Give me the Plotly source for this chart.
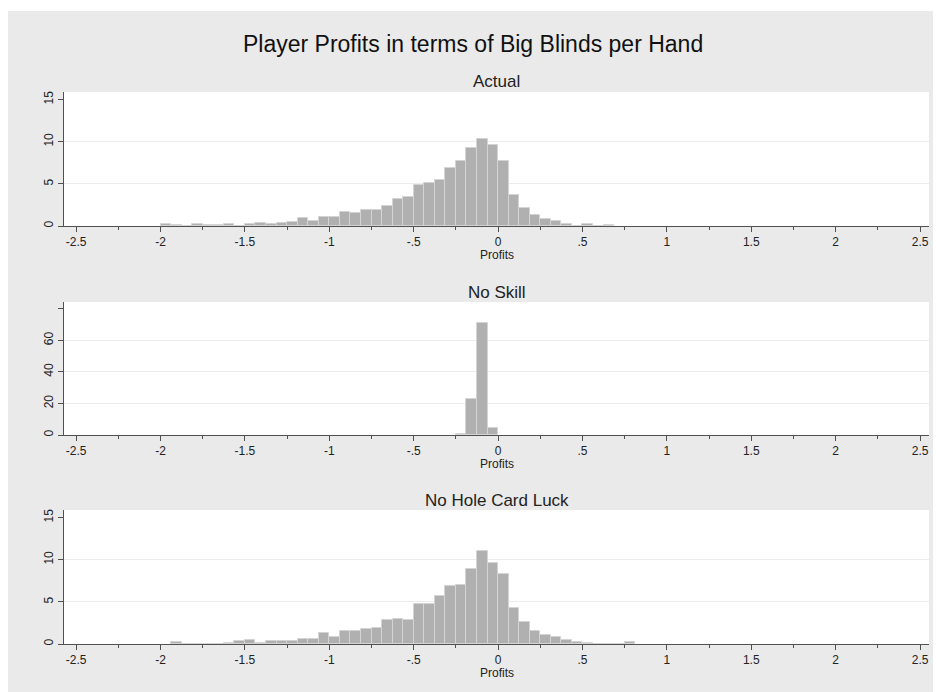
import plotly.graph_objects as go

# ---- data: histogram bins (bin lower edges, width 1/16) and heights (percent) ----
bin_width = 0.0625

actual_left = [-2.0, -1.9375, -1.875, -1.8125, -1.75, -1.6875, -1.625, -1.5625,
               -1.5, -1.4375, -1.375, -1.3125, -1.25, -1.1875, -1.125, -1.0625,
               -1.0, -0.9375, -0.875, -0.8125, -0.75, -0.6875, -0.625, -0.5625,
               -0.5, -0.4375, -0.375, -0.3125, -0.25, -0.1875, -0.125, -0.0625,
               0.0, 0.0625, 0.125, 0.1875, 0.25, 0.3125, 0.375, 0.4375,
               0.5, 0.5625, 0.625]
actual_pct = [0.24, 0.12, 0.0, 0.24, 0.12, 0.12, 0.24, 0.0,
              0.24, 0.3, 0.24, 0.4, 0.53, 0.97, 0.62, 1.04,
              1.04, 1.64, 1.52, 1.84, 1.88, 2.32, 3.18, 3.4,
              4.84, 5.08, 5.48, 6.9, 7.72, 9.25, 10.36, 9.6,
              7.7, 3.73, 2.1, 1.27, 0.8, 0.56, 0.2, 0.0,
              0.2, 0.0, 0.1]

noskill_left = [-0.25, -0.1875, -0.125, -0.0625]
noskill_pct = [0.4, 22.9, 71.3, 4.6]

nohole_left = [-1.9375, -1.875, -1.8125, -1.75, -1.6875, -1.625, -1.5625,
               -1.5, -1.4375, -1.375, -1.3125, -1.25, -1.1875, -1.125, -1.0625,
               -1.0, -0.9375, -0.875, -0.8125, -0.75, -0.6875, -0.625, -0.5625,
               -0.5, -0.4375, -0.375, -0.3125, -0.25, -0.1875, -0.125, -0.0625,
               0.0, 0.0625, 0.125, 0.1875, 0.25, 0.3125, 0.375, 0.4375,
               0.5, 0.5625, 0.625, 0.6875, 0.75]
nohole_pct = [0.2, 0.0, 0.0, 0.0, 0.0, 0.16, 0.36,
              0.43, 0.16, 0.36, 0.4, 0.34, 0.6, 0.6, 1.34,
              0.78, 1.5, 1.5, 1.78, 1.94, 2.8, 2.98, 2.88,
              4.76, 4.76, 5.75, 6.84, 6.98, 8.92, 11.0, 9.64,
              8.34, 4.27, 2.6, 1.58, 1.1, 0.79, 0.47, 0.28,
              0.16, 0.0, 0.0, 0.0, 0.2]

panel_titles = ["Actual", "No Skill", "No Hole Card Luck"]
main_title = "Player Profits in terms of Big Blinds per Hand"
x_title = "Profits"

x_tickvals = [-2.5, -2, -1.5, -1, -0.5, 0, 0.5, 1, 1.5, 2, 2.5]
x_ticktext = ["-2.5", "-2", "-1.5", "-1", "-.5", "0", ".5", "1", "1.5", "2", "2.5"]
x_minor = [-2.25, -1.75, -1.25, -0.75, -0.25, 0.25, 0.75, 1.25, 1.75, 2.25]

y_ticks_pct = [0, 5, 10, 15]
y_grid_pct = [5, 10]
y_ticks_noskill = [0, 20, 40, 60, 80]
y_text_noskill = ["0", "20", "40", "60", ""]
y_grid_noskill = [20, 40, 60]

# ---- styling ----
BG = "#eaeaea"
BAR = "#b0b0b0"
BAR_LINE = "#d4d4d4"
AXIS = "#505050"
FONT = "Liberation Sans, Arial, sans-serif"

fig = go.Figure()

series = [(actual_left, actual_pct), (noskill_left, noskill_pct), (nohole_left, nohole_pct)]
for i, (xs, ys) in enumerate(series):
    suffix = "" if i == 0 else str(i + 1)
    fig.add_trace(go.Bar(
        x=xs, y=ys, width=bin_width, offset=0,
        marker=dict(color=BAR, line=dict(color=BAR_LINE, width=1)),
        xaxis="x" + suffix, yaxis="y" + suffix, showlegend=False,
        hoverinfo="x+y",
    ))

# page body has an 8px margin: work in screen pixels, shifted by OFF
OFF = 8
W, H = 941 - OFF, 692 - OFF
L, R, T, B = 64 - OFF, 941 - 929, 92 - OFF, 692 - 644
ph = H - T - B
pw = W - L - R


def py(p):  # screen pixel y -> paper y
    return (H - B - (p - OFF)) / ph


def px(p):  # screen pixel x -> paper x
    return ((p - OFF) - L) / pw


domains = [(py(226), py(92)), (py(435), py(302)), (py(644), py(510))]

layout = dict(
    width=W, height=H,
    margin=dict(l=L, r=R, t=T, b=B),
    paper_bgcolor=BG, plot_bgcolor="white",
    font=dict(family=FONT, color="#222222", size=12),
    bargap=0,
    showlegend=False,
)

for i in range(3):
    suffix = "" if i == 0 else str(i + 1)
    layout["xaxis" + suffix] = dict(
        domain=[0, 1], anchor="y" + suffix, range=[-2.572, 2.553],
        tickmode="array", tickvals=x_tickvals, ticktext=x_ticktext,
        ticks="outside", ticklen=5, tickcolor=AXIS, tickwidth=1,
        showline=True, linecolor=AXIS, linewidth=1, showgrid=False, zeroline=False,
        tickfont=dict(size=12, color="#222222"),
        minor=dict(tickmode="array", tickvals=x_minor, ticks="outside", ticklen=3,
                   tickcolor=AXIS, showgrid=False),
        fixedrange=True,
    )
    if i == 1:
        yt, ytt, yg, yr = y_ticks_noskill, y_text_noskill, y_grid_noskill, [0, 84.3]
    else:
        yt, ytt, yg, yr = y_ticks_pct, [str(v) for v in y_ticks_pct], y_grid_pct, [0, 15.9]
    layout["yaxis" + suffix] = dict(
        domain=list(domains[i]), anchor="x" + suffix, range=yr,
        tickmode="array", tickvals=yt, ticktext=ytt, tickangle=-90,
        ticks="outside", ticklen=5, tickcolor=AXIS,
        showline=True, linecolor=AXIS, linewidth=1, showgrid=False, zeroline=False,
        tickfont=dict(size=12, color="#222222"),
        minor=dict(tickmode="array", tickvals=yg, ticks="", showgrid=True,
                   gridcolor="#ececec", gridwidth=1.2),
        fixedrange=True,
    )

annotations = [dict(text=main_title, x=px(473), y=py(44), xref="paper", yref="paper",
                    showarrow=False, xanchor="center", yanchor="middle",
                    font=dict(size=23, color="#111111"))]
title_y = [81, 292, 500]
xlabel_y = [255, 464, 673]
for t, yy, ly in zip(panel_titles, title_y, xlabel_y):
    annotations.append(dict(text=t, x=0.5, y=py(yy), xref="paper", yref="paper",
                            showarrow=False, xanchor="center", yanchor="middle",
                            font=dict(size=17, color="#222222")))
    annotations.append(dict(text=x_title, x=0.5, y=py(ly), xref="paper", yref="paper",
                            showarrow=False, xanchor="center", yanchor="middle",
                            font=dict(size=12, color="#222222")))
layout["annotations"] = annotations

# white strip at the top of the screenshot (above the gray graph region)
layout["shapes"] = [
    dict(type="rect", xref="paper", yref="paper", x0=px(0), x1=px(960), y0=py(11), y1=py(0),
         fillcolor="white", line=dict(width=0), layer="below"),
]

fig.update_layout(**layout)
fig.write_html("out.html")
